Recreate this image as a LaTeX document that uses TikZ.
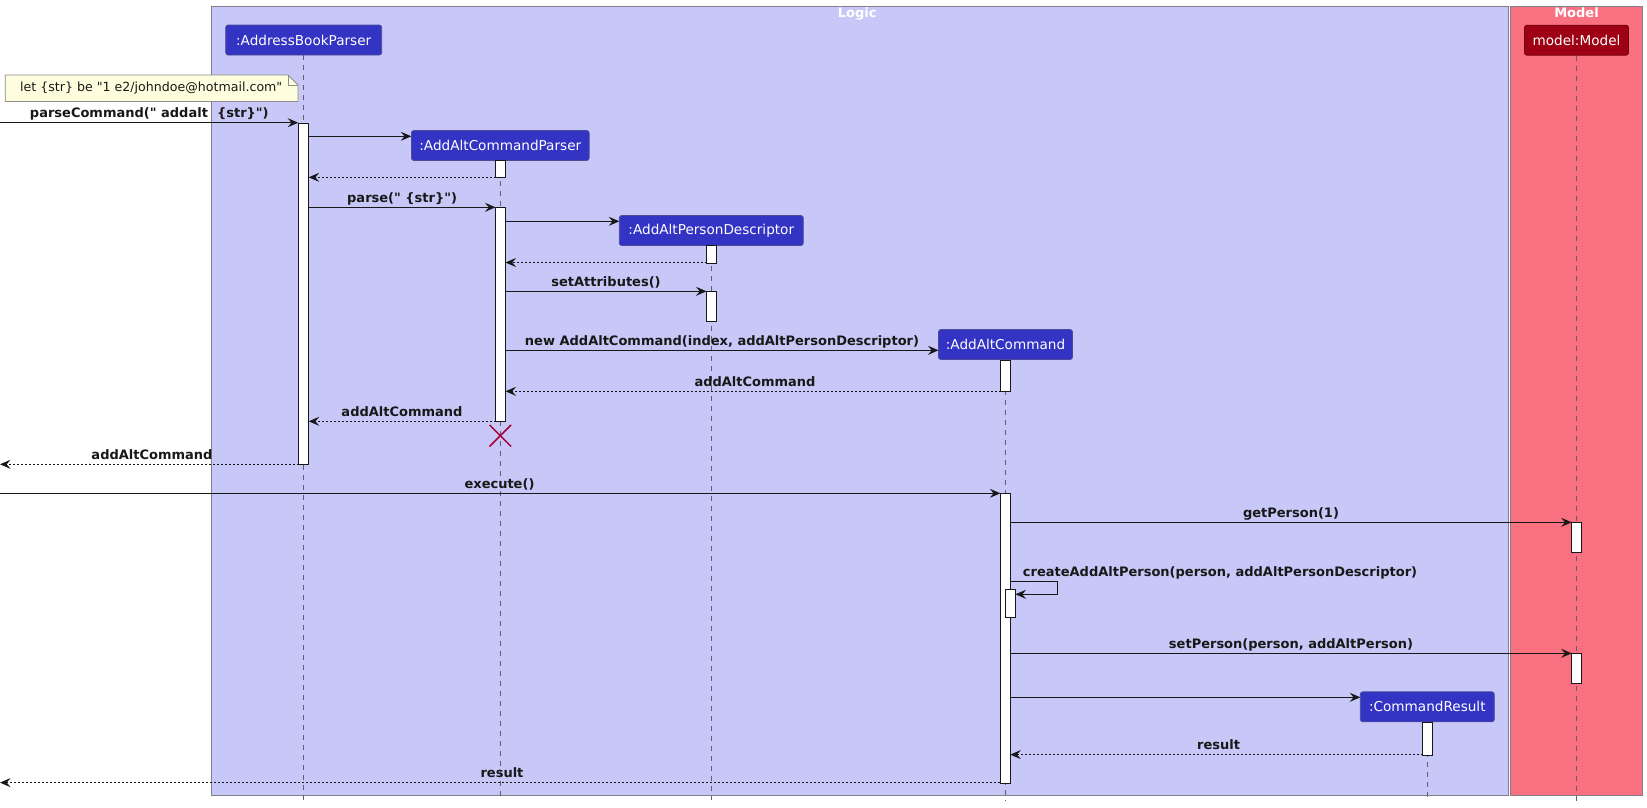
\documentclass[tikz,border=0pt]{standalone}
\usepackage{fontspec}
\setmainfont{DejaVu Sans}[Ligatures=TeXOff]
\usetikzlibrary{arrows.meta,shapes.misc}
\definecolor{logicbg}{RGB}{200,200,248}
\definecolor{modelbg}{RGB}{249,113,129}
\definecolor{framec}{RGB}{128,128,140}
\definecolor{partbg}{RGB}{51,51,196}
\definecolor{partbd}{RGB}{75,75,150}
\definecolor{modbg}{RGB}{158,0,20}
\definecolor{modbd}{RGB}{110,0,15}
\definecolor{notebg}{RGB}{254,254,222}
\definecolor{notebd}{RGB}{140,140,140}
\definecolor{lifec}{RGB}{95,95,110}
\definecolor{msgc}{RGB}{24,24,24}
\definecolor{killc}{RGB}{168,0,54}
\begin{document}
\begin{tikzpicture}[x=1pt,y=-1pt,
  frame/.style={draw=framec, line width=1pt},
  part/.style={draw=partbd, fill=partbg, rounded corners=2.5pt, text=white,
    font=\fontsize{13.6}{16}\selectfont, inner sep=0pt, minimum height=30pt, line width=0.8pt},
  modpart/.style={part, fill=modbg, draw=modbd},
  life/.style={draw=lifec, line width=0.8pt, dash pattern=on 5pt off 5pt},
  actbox/.style={draw=msgc, fill=white, line width=1pt, minimum width=10pt, inner sep=0pt, anchor=north},
  msg/.style={draw=msgc, line width=1pt, -{Stealth[length=10.5pt,width=9pt,inset=3.8pt]}},
  ret/.style={msg, dash pattern=on 2pt off 2pt},
  lbl/.style={font=\fontsize{13}{15}\selectfont\bfseries, text=msgc, inner sep=0pt, anchor=base},
  ttl/.style={font=\fontsize{13}{15}\selectfont\bfseries, text=white, inner sep=0pt, anchor=base},
]
\useasboundingbox (0,0) rectangle (1647,807);

% frames
\draw[frame, fill=logicbg] (211.3,6.3) rectangle (1508.7,795.3);
\draw[frame, fill=modelbg] (1510.3,6.3) rectangle (1642.7,795.3);
\node[ttl] (tLogic) at (857.3,17) {Logic};
\node[ttl] (tModel) at (1576.5,17) {Model};

% participants
\node[part, minimum width=156pt] (abp) at (303.7,40) {:AddressBookParser};
\node[modpart, minimum width=104pt] (model) at (1576.5,40.2) {model:Model};
\node[part, minimum width=177.7pt] (acp) at (500.3,145.5) {:AddAltCommandParser};
\node[part, minimum width=184pt] (apd) at (711.3,230.5) {:AddAltPersonDescriptor};
\node[part, minimum width=134pt] (aac) at (1005.5,344.5) {:AddAltCommand};
\node[part, minimum width=134pt] (cr) at (1427.3,706.8) {:CommandResult};

% lifeline ends
\coordinate (abpE) at (303.7,800);
\coordinate (modelE) at (1576.5,802);
\coordinate (acpE) at (500.3,800);
\coordinate (apdE) at (711.3,800);
\coordinate (aacE) at (1005.5,800);
\coordinate (crE) at (1427.3,800);
\draw[life] (abp.south) -- (abpE);
\draw[life] (model.south) -- (modelE);
\draw[life] (acp.south) -- (acpE);
\draw[life] (apd.south) -- (apdE);
\draw[life] (aac.south) -- (aacE);
\draw[life] (cr.south) -- (crE);

% note
\draw[draw=notebd, fill=notebg, line width=0.8pt]
  (5.3,75) -- (288,75) -- (298,85) -- (298,101.4) -- (5.3,101.4) -- cycle;
\draw[draw=notebd, line width=0.8pt] (288,75) -- (288,85) -- (298,85);
\node[font=\fontsize{12.6}{15}\selectfont, text=msgc, inner sep=0pt, anchor=west] (note) at (20,88.2)
  {let \{str\} be "1 e2/johndoe@hotmail.com"};

% activations
\node[actbox, minimum height=341.6pt] (abpA) at (303.7,122.7) {};
\node[actbox, minimum height=17pt] (acpA1) at (500.5,160.3) {};
\node[actbox, minimum height=214pt] (acpA2) at (500.5,207.3) {};
\node[actbox, minimum height=17.2pt] (apdA1) at (711.5,245.3) {};
\node[actbox, minimum height=30pt] (apdA2) at (711.5,291.3) {};
\node[actbox, minimum height=31.6pt] (aacA1) at (1005.5,359.7) {};
\node[actbox, minimum height=289.3pt] (aacA2) at (1005.3,493.3) {};
\node[actbox, minimum height=28pt] (aacA3) at (1010.5,589.3) {};
\node[actbox, minimum height=30pt] (modA1) at (1576.7,522.3) {};
\node[actbox, minimum height=30pt] (modA2) at (1576.7,653.3) {};
\node[actbox, minimum height=32.4pt] (crA) at (1427.5,722.3) {};

% message end points
\coordinate (in1) at (0,122.7);
\coordinate (c1a) at (308.7,136.3);
\coordinate (c1b) at (411.3,136.3);
\coordinate (r1a) at (495.5,177.3);
\coordinate (r1b) at (308.7,177.3);
\coordinate (p1a) at (308.7,207.3);
\coordinate (p1b) at (495.5,207.3);
\coordinate (c2a) at (505.5,221.3);
\coordinate (c2b) at (619.3,221.3);
\coordinate (r2a) at (706.5,262.5);
\coordinate (r2b) at (505.5,262.5);
\coordinate (s1a) at (505.5,291.3);
\coordinate (s1b) at (706.5,291.3);
\coordinate (n1a) at (505.5,350.3);
\coordinate (n1b) at (938.5,350.3);
\coordinate (r3a) at (1000.5,391.3);
\coordinate (r3b) at (505.5,391.3);
\coordinate (r4a) at (495.5,421.3);
\coordinate (r4b) at (308.7,421.3);
\coordinate (r5a) at (298.7,464.3);
\coordinate (out1) at (0,464.3);
\coordinate (in2) at (0,493.3);
\coordinate (e1b) at (1000.3,493.3);
\coordinate (g1a) at (1010.3,522.3);
\coordinate (g1b) at (1571.7,522.3);
\coordinate (sfa) at (1010.3,581.3);
\coordinate (sfb) at (1057.7,581.3);
\coordinate (sfc) at (1057.7,594.3);
\coordinate (sfd) at (1015.5,594.3);
\coordinate (sp1a) at (1010.3,653.3);
\coordinate (sp1b) at (1571.7,653.3);
\coordinate (c3a) at (1010.3,697.3);
\coordinate (c3b) at (1360.3,697.3);
\coordinate (r6a) at (1422.5,754.6);
\coordinate (r6b) at (1010.3,754.6);
\coordinate (r7a) at (1000.3,782.6);
\coordinate (out2) at (0,782.6);

% messages
\draw[msg] (in1) -- (abpA.north west);
\draw[msg] (c1a) -- (c1b);
\draw[ret] (r1a) -- (r1b);
\draw[msg] (p1a) -- (p1b);
\draw[msg] (c2a) -- (c2b);
\draw[ret] (r2a) -- (r2b);
\draw[msg] (s1a) -- (s1b);
\draw[msg] (n1a) -- (n1b);
\draw[ret] (r3a) -- (r3b);
\draw[ret] (r4a) -- (r4b);
\draw[ret] (r5a) -- (out1);
\draw[msg] (in2) -- (e1b);
\draw[msg] (g1a) -- (g1b);
\draw[msg] (sfa) -- (sfb) -- (sfc) -- (sfd);
\draw[msg] (sp1a) -- (sp1b);
\draw[msg] (c3a) -- (c3b);
\draw[ret] (r6a) -- (r6b);
\draw[ret] (r7a) -- (out2);

% labels
\node[lbl] (l1) at (149.3,117.7) {parseCommand(" addalt \ \{str\}")};
\node[lbl] (l2) at (402.1,202.3) {parse(" \{str\}")};
\node[lbl] (l3) at (606,286.3) {setAttributes()};
\node[lbl] (l4) at (722,345.3) {new AddAltCommand(index, addAltPersonDescriptor)};
\node[lbl] (l5) at (755,386.3) {addAltCommand};
\node[lbl] (l6) at (402,416.3) {addAltCommand};
\node[lbl] (l7) at (152,459.3) {addAltCommand};
\node[lbl] (l8) at (499.5,488.3) {execute()};
\node[lbl] (l9) at (1291,517.3) {getPerson(1)};
\node[lbl, anchor=base west] (l10) at (1022.7,576.5) {createAddAltPerson(person, addAltPersonDescriptor)};
\node[lbl] (l11) at (1291,648.3) {setPerson(person, addAltPerson)};
\node[lbl] (l12) at (1218.6,749.6) {result};
\node[lbl] (l13) at (502,777.6) {result};

% destroy
\node[cross out, draw=killc, line width=1.5pt, minimum size=20pt, inner sep=0pt] (kill) at (500.3,435.7) {};
\end{tikzpicture}
\end{document}
